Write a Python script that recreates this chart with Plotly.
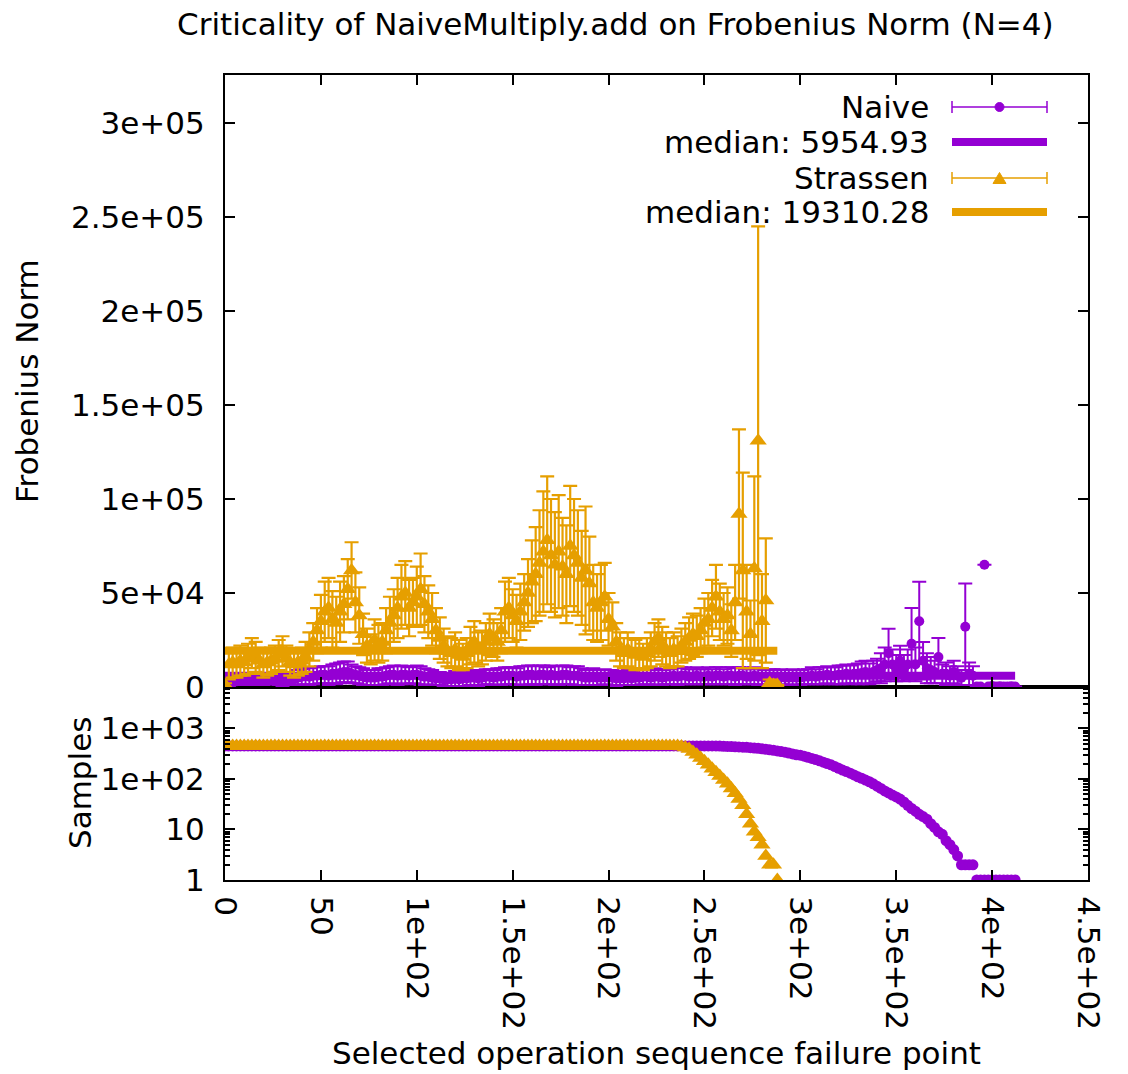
import plotly.graph_objects as go

# ---------------- data ----------------
TITLE = "Criticality of NaiveMultiply.add on Frobenius Norm (N=4)"
X_TITLE = "Selected operation sequence failure point"
Y_TITLE_TOP = "Frobenius Norm"
Y_TITLE_BOTTOM = "Samples"

STEP = 2  # failure points read every 2 operations

# Naive: Frobenius norm (thousands) and error (thousands), x = 0, 2, 4, ...
naive_frob_k = [
    1, 2, 2.5, 3, 3.5, 4, 4, 3.5, 4, 4,            # 0-18
    3.5, 4, 4, 3.5, 3, 2.5, 3, 3.5, 4, 5,          # 20-38
    5.5, 6, 5.5, 6, 6, 6.5, 6.5, 6, 7, 7,          # 40-58
    7.5, 8, 8, 7, 6.5, 6, 5.5, 5, 5, 5,            # 60-78
    5.5, 5.5, 6, 6.5, 6.5, 6, 6.5, 6.5, 6, 6.5,    # 80-98
    6.5, 6, 5.5, 5.5, 5, 4.5, 4.5, 4, 4, 4,        # 100-118
    4.5, 4, 4.5, 4.5, 5, 5, 4.5, 5, 5.5, 5.5,      # 120-138
    5, 5.5, 5.5, 6, 6, 6, 5.5, 6, 6, 6.5,          # 140-158
    6.5, 6, 6.5, 6.5, 6, 6.5, 6, 6, 6.5, 6.5,      # 160-178
    6, 6, 6, 5.5, 5, 5, 5.5, 5, 5, 5.5,            # 180-198
    5, 5, 4.5, 4.5, 4.5, 5, 4.5, 5, 5, 5.5,        # 200-218
    5.5, 5, 5.5, 5.5, 5, 5.5, 5.5, 6, 5.5, 6,      # 220-238
    6, 5.5, 5.5, 6, 5.5, 5.5, 6, 5.5, 6, 6,        # 240-258
    5.5, 6, 6, 5.5, 6, 6, 5.5, 5.5, 6, 5.5,        # 260-278
    5.5, 5, 5.5, 5.5, 5, 5.5, 5, 5, 5.5, 5,        # 280-298
    5, 5.5, 5.5, 6, 5.5, 6, 6, 6.5, 6, 6,          # 300-318
    6.5, 6.5, 7, 6.5, 7, 7, 7.5, 8, 7, 8,          # 320-338
    9, 10, 12, 18, 12, 10, 14, 10, 12, 23,         # 340-358
    12, 35, 14, 10, 9, 8, 16, 7, 7, 6,             # 360-378
    8, 6, 5, 32, 7, 6, 0.3, 0.3, 65, 0.3,          # 380-398
    0.5, 0.3, 0.4, 0.3, 0.3, 0.4, 0.3,             # 400-412
]
naive_err_k = [
    1, 1.5, 1.5, 2, 2.5, 2.5, 2.5, 2.5, 2.5, 2.5,
    2.5, 2.5, 2.5, 2, 2, 2, 2, 2.5, 3, 4,
    4, 4.5, 4.5, 4.5, 4.5, 4.5, 4.5, 5, 5, 5.5,
    5.5, 5.5, 5.5, 5, 4.5, 4.5, 4.5, 4, 4, 4,
    4.5, 4.5, 4.5, 4.5, 5, 5, 5, 4.5, 4.5, 4.5,
    5, 5, 4.5, 4, 4, 3.5, 3.5, 3.5, 3.5, 3.5,
    4, 3.5, 4, 4, 4, 4, 4, 4, 4, 4,
    4, 4.5, 4.5, 4.5, 4.5, 4.5, 4.5, 5, 5, 5,
    5, 5, 5, 5, 4.5, 5, 5, 5, 5, 5,
    4.5, 5, 5, 4.5, 4, 4, 4.5, 4, 4, 4,
    4, 4, 4, 3.5, 3.5, 4, 3.5, 4, 4, 4,
    4, 4, 4.5, 4, 4, 4, 4, 4.5, 4.5, 4.5,
    4.5, 4, 4, 4.5, 4, 4, 4.5, 4, 4.5, 4.5,
    4, 4.5, 4.5, 4.5, 4.5, 4.5, 4, 4, 4.5, 4.5,
    4, 4, 4, 4, 4, 4, 4, 4, 4, 4,
    4, 4, 4, 4.5, 4, 4.5, 4.5, 4.5, 4.5, 4.5,
    5, 5, 5, 5, 5, 5.5, 6, 6, 5.5, 6,
    6, 8, 9, 13, 8, 7, 8, 7, 8, 19,
    9, 21, 10, 8, 7, 6, 10, 5, 6, 5,
    6, 5, 4, 23, 6, 5, 0, 0, 0, 0,
    0, 0, 0, 0, 0, 0, 0,
]
# Naive: samples, x = 0, 2, 4, ...
naive_samples = [
    450, 450, 450, 450, 450, 450, 450, 450, 450, 450,
    450, 450, 450, 450, 450, 450, 450, 450, 450, 450,
    450, 450, 450, 450, 450, 450, 450, 450, 450, 450,
    450, 450, 450, 450, 450, 450, 450, 450, 450, 450,
    450, 450, 450, 450, 450, 450, 450, 450, 450, 450,
    450, 450, 450, 450, 450, 450, 450, 450, 450, 450,
    450, 450, 450, 450, 450, 450, 450, 450, 450, 450,
    450, 450, 450, 450, 450, 450, 450, 450, 450, 450,
    450, 450, 450, 450, 450, 450, 450, 450, 450, 450,
    450, 450, 450, 450, 450, 450, 450, 450, 450, 450,
    450, 450, 450, 450, 450, 450, 450, 450, 450, 450,
    450, 450, 450, 450, 450, 450, 450, 450, 450, 450,
    450, 450, 450, 450, 450, 450, 450, 450, 450,
    447, 444, 441, 438, 434, 430, 426, 422, 416, 410,
    403, 396, 388, 378, 368, 358, 348, 338, 325, 313,
    300, 295, 282, 268, 255, 242, 228, 215, 202, 190,
    176, 162, 150, 140, 130, 120, 110, 103, 95, 88,
    80, 72, 65, 58, 53, 48, 44, 40, 35, 30,
    26, 23, 20, 18, 16, 13, 11, 9, 8, 6,
    5, 4, 3, 2, 2, 2, 2,
    1, 1, 1, 1, 1, 1, 1, 1, 1, 1, 1,
]
NAIVE_MEDIAN = 5954.93

# Strassen: Frobenius norm (thousands) and error (thousands), x = 0, 2, 4, ...
strassen_frob_k = [
    1, 12, 13, 12, 14, 13, 15, 18, 16, 14,         # 0-18
    12, 13, 14, 15, 17, 19, 15, 13, 12, 13,        # 20-38
    14, 16, 20, 24, 30, 35, 40, 42, 36, 34,        # 40-58
    40, 44, 52, 62, 45, 38, 28, 22, 20, 25,        # 60-78
    23, 24, 30, 34, 38, 42, 48, 50, 42, 45,        # 80-98
    48, 52, 44, 40, 36, 30, 26, 22, 19, 18,        # 100-118
    20, 17, 16, 18, 22, 24, 20, 21, 24, 28,        # 120-138
    26, 24, 30, 40, 42, 38, 35, 40, 45, 50,        # 140-158
    56, 60, 66, 72, 78, 70, 65, 72, 64, 60,        # 160-178
    75, 70, 66, 58, 62, 55, 45, 42, 45, 48,        # 180-198
    36, 32, 24, 20, 18, 20, 18, 17, 18, 16,        # 200-218
    18, 20, 24, 26, 22, 20, 18, 20, 19, 22,        # 220-238
    24, 26, 28, 27, 30, 34, 36, 42, 48, 40,        # 240-258
    36, 38, 30, 45, 92, 62, 40, 28, 63, 131,       # 260-278
    35, 46, 2, 1, 1,                               # 280-288
]
strassen_err_k = [
    1, 8, 8, 7, 8, 7, 8, 8, 8, 7,
    7, 7, 7, 7, 8, 8, 7, 7, 7, 7,
    7, 8, 9, 10, 12, 14, 16, 16, 15, 14,
    16, 15, 16, 15, 16, 15, 11, 9, 8, 11,
    10, 10, 12, 14, 14, 16, 17, 17, 15, 13,
    16, 19, 15, 14, 14, 12, 11, 9, 8, 8,
    9, 8, 7, 8, 10, 11, 9, 9, 10, 11,
    10, 10, 12, 16, 16, 14, 14, 15, 15, 18,
    22, 25, 28, 32, 34, 30, 28, 30, 26, 26,
    32, 30, 28, 25, 34, 25, 20, 18, 20, 18,
    14, 13, 10, 9, 8, 9, 8, 8, 8, 7,
    8, 9, 10, 10, 10, 9, 8, 9, 8, 9,
    10, 11, 11, 11, 12, 13, 14, 15, 17, 15,
    14, 15, 14, 20, 45, 52, 25, 18, 49, 114,
    25, 33, 2, 1, 0,
]
# Strassen: samples, x = 0, 2, 4, ...
strassen_samples = [
    450, 450, 450, 450, 450, 450, 450, 450, 450, 450,
    450, 450, 450, 450, 450, 450, 450, 450, 450, 450,
    450, 450, 450, 450, 450, 450, 450, 450, 450, 450,
    450, 450, 450, 450, 450, 450, 450, 450, 450, 450,
    450, 450, 450, 450, 450, 450, 450, 450, 450, 450,
    450, 450, 450, 450, 450, 450, 450, 450, 450, 450,
    450, 450, 450, 450, 450, 450, 450, 450, 450, 450,
    450, 450, 450, 450, 450, 450, 450, 450, 450, 450,
    450, 450, 450, 450, 450, 450, 450, 450, 450, 450,
    450, 450, 450, 450, 450, 450, 450, 450, 450, 450,
    450, 450, 450, 450, 450, 450, 450, 450, 450, 450,
    450, 450, 450, 450, 450, 450, 450, 450, 450,
    440, 420, 390, 340, 300, 260, 225, 190, 160, 135,
    115, 95, 80, 65, 52, 40, 30, 20, 13, 9,
    7, 5, 3, 2, 2, 1,
]
STRASSEN_MEDIAN = 19310.28

x_tickvals = [0, 50, 100, 150, 200, 250, 300, 350, 400, 450]
x_ticktext = ["0", "50", "1e+02", "1.5e+02", "2e+02", "2.5e+02",
              "3e+02", "3.5e+02", "4e+02", "4.5e+02"]
y_tickvals = [0, 50000, 100000, 150000, 200000, 250000, 300000]
y_ticktext = ["0", "5e+04", "1e+05", "1.5e+05", "2e+05", "2.5e+05", "3e+05"]
s_tickvals = [1, 10, 100, 1000]
s_ticktext = ["1", "10", "1e+02", "1e+03"]

# ---------------- derived series ----------------
naive_x = [STEP * i for i in range(len(naive_frob_k))]
strassen_x = [STEP * i for i in range(len(strassen_frob_k))]
naive_sx = [STEP * i for i in range(len(naive_samples))]
strassen_sx = [STEP * i for i in range(len(strassen_samples))]
naive_frob = [v * 1000 for v in naive_frob_k]
naive_err = [v * 1000 for v in naive_err_k]
strassen_frob = [v * 1000 for v in strassen_frob_k]
strassen_err = [v * 1000 for v in strassen_err_k]

# ---------------- style ----------------
PURPLE = "#9400D3"
ORANGE = "#E69F00"
FONT = "DejaVu Sans"
FS = 31
W, H = 1128, 1074
L, R, T, B = 225, 40, 75, 194
PLOT_W = W - L - R
PLOT_H = H - T - B
SPLIT = 193 / PLOT_H  # bottom panel share


def px_x(px):
    return (px - L) / PLOT_W


def px_y(py):
    return (H - B - py) / PLOT_H


fig = go.Figure()

# top panel: Naive
fig.add_trace(go.Scatter(
    x=naive_x, y=naive_frob, mode="markers", name="Naive",
    marker=dict(symbol="circle", size=10, color=PURPLE),
    error_y=dict(type="data", array=naive_err, color=PURPLE, thickness=2, width=7),
    xaxis="x2", yaxis="y2", showlegend=False))
fig.add_trace(go.Scatter(
    x=[naive_x[0], naive_x[-1]], y=[NAIVE_MEDIAN, NAIVE_MEDIAN], mode="lines",
    line=dict(color=PURPLE, width=8), xaxis="x2", yaxis="y2", showlegend=False))
# top panel: Strassen
fig.add_trace(go.Scatter(
    x=strassen_x, y=strassen_frob, mode="markers", name="Strassen",
    marker=dict(symbol="triangle-up", size=15, color=ORANGE),
    error_y=dict(type="data", array=strassen_err, color=ORANGE, thickness=2.2, width=7),
    xaxis="x2", yaxis="y2", showlegend=False))
fig.add_trace(go.Scatter(
    x=[strassen_x[0], strassen_x[-1]], y=[STRASSEN_MEDIAN, STRASSEN_MEDIAN], mode="lines",
    line=dict(color=ORANGE, width=8), xaxis="x2", yaxis="y2", showlegend=False))

# bottom panel: samples
fig.add_trace(go.Scatter(
    x=naive_sx, y=naive_samples, mode="markers",
    marker=dict(symbol="circle", size=11, color=PURPLE),
    xaxis="x", yaxis="y", showlegend=False))
fig.add_trace(go.Scatter(
    x=strassen_sx, y=strassen_samples, mode="markers",
    marker=dict(symbol="triangle-up", size=15, color=ORANGE),
    xaxis="x", yaxis="y", showlegend=False))

axis_common = dict(showline=True, linecolor="black", linewidth=2, mirror="allticks",
                   ticks="inside", ticklen=10, tickwidth=1.5, tickcolor="black",
                   showgrid=False, zeroline=False,
                   tickfont=dict(family=FONT, size=FS, color="black"))

minor_vals = [m * d for d in (1, 10, 100, 1000) for m in range(2, 10)]

fig.update_layout(
    width=W, height=H, autosize=False,
    margin=dict(l=L, r=R, t=T, b=B),
    paper_bgcolor="white", plot_bgcolor="white",
    font=dict(family=FONT, size=FS, color="black"),
    xaxis=dict(axis_common, domain=[0, 1], anchor="y", range=[0, 450],
               tickmode="array", tickvals=x_tickvals, ticktext=x_ticktext,
               tickangle=90, ticklabelstandoff=8),
    yaxis=dict(axis_common, domain=[0, SPLIT], anchor="x", type="log",
               range=[0, 3.82], tickmode="array", tickvals=s_tickvals,
               ticktext=s_ticktext, ticklabelstandoff=12,
               minor=dict(tickmode="array", tickvals=minor_vals, ticks="inside",
                          ticklen=5, tickcolor="black", showgrid=False)),
    xaxis2=dict(axis_common, domain=[0, 1], anchor="y2", range=[0, 450],
                matches="x", tickmode="array", tickvals=x_tickvals,
                showticklabels=False),
    yaxis2=dict(axis_common, domain=[SPLIT, 1], anchor="x2", range=[0, 325500],
                tickmode="array", tickvals=y_tickvals, ticktext=y_ticktext,
                ticklabelstandoff=12),
)

annotations = [
    dict(text=TITLE, x=px_x(615), y=px_y(24), xref="paper", yref="paper",
         showarrow=False, xanchor="center", yanchor="middle",
         font=dict(family=FONT, size=FS, color="black")),
    dict(text=X_TITLE, x=px_x(656), y=px_y(1053), xref="paper", yref="paper",
         showarrow=False, xanchor="center", yanchor="middle",
         font=dict(family=FONT, size=FS, color="black")),
    dict(text=Y_TITLE_TOP, x=px_x(27), y=px_y(381), xref="paper", yref="paper",
         showarrow=False, xanchor="center", yanchor="middle", textangle=-90,
         font=dict(family=FONT, size=FS, color="black")),
    dict(text=Y_TITLE_BOTTOM, x=px_x(80), y=px_y(783), xref="paper", yref="paper",
         showarrow=False, xanchor="center", yanchor="middle", textangle=-90,
         font=dict(family=FONT, size=FS, color="black")),
]

# manual gnuplot-style key (text left, sample right)
key_rows = [
    ("Naive", 107), ("median: %.2f" % NAIVE_MEDIAN, 142),
    ("Strassen", 178), ("median: %.2f" % STRASSEN_MEDIAN, 212),
]
for txt, py in key_rows:
    annotations.append(dict(text=txt, x=px_x(931), y=px_y(py), xref="paper", yref="paper",
                            showarrow=False, xanchor="right", yanchor="middle",
                            font=dict(family=FONT, size=FS, color="black")))

shapes = []
s0, s1, sc = px_x(952), px_x(1047), px_x(999.5)
for (row_err, row_med, color, marker) in [(107, 142, PURPLE, "circle"), (178, 212, ORANGE, "tri")]:
    yy = px_y(row_err)
    cap = 6 / PLOT_H
    shapes.append(dict(type="line", xref="paper", yref="paper", x0=s0, x1=s1, y0=yy, y1=yy,
                       line=dict(color=color, width=1.5)))
    for xx in (s0, s1):
        shapes.append(dict(type="line", xref="paper", yref="paper", x0=xx, x1=xx,
                           y0=yy - cap, y1=yy + cap, line=dict(color=color, width=1.5)))
    if marker == "circle":
        rx, ry = 4.5 / PLOT_W, 4.5 / PLOT_H
        shapes.append(dict(type="circle", xref="paper", yref="paper", x0=sc - rx, x1=sc + rx,
                           y0=yy - ry, y1=yy + ry, fillcolor=color, line=dict(color=color, width=1)))
    else:
        hx, hy = 6.5 / PLOT_W, 5.5 / PLOT_H
        path = "M %f,%f L %f,%f L %f,%f Z" % (sc - hx, yy - hy, sc + hx, yy - hy, sc, yy + hy)
        shapes.append(dict(type="path", xref="paper", yref="paper", path=path,
                           fillcolor=color, line=dict(color=color, width=1)))
    ym = px_y(row_med)
    shapes.append(dict(type="line", xref="paper", yref="paper", x0=s0, x1=s1, y0=ym, y1=ym,
                       line=dict(color=color, width=8)))

fig.update_layout(annotations=annotations, shapes=shapes)

fig.write_html("out.html")
